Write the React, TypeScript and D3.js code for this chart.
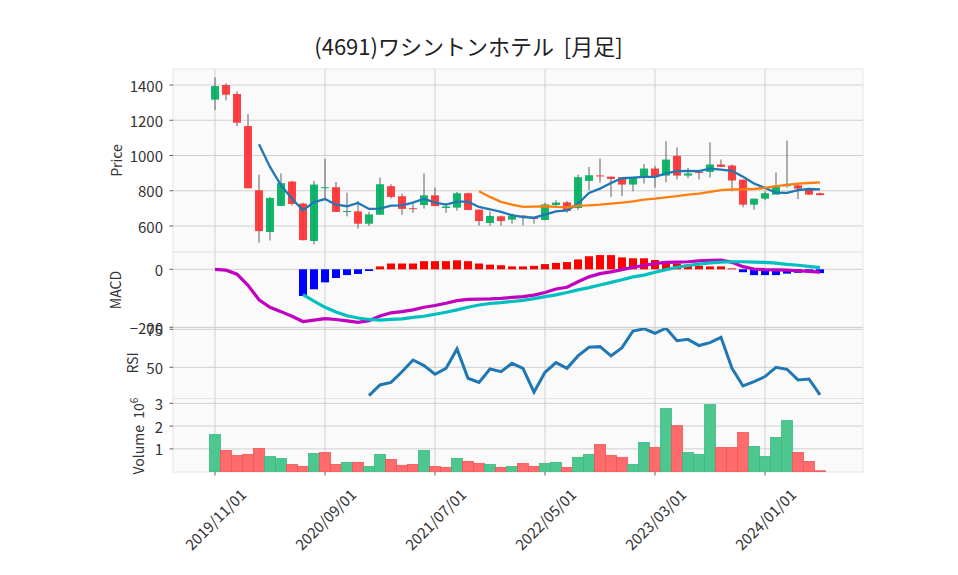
import React, { useRef, useEffect } from "react";
import * as d3 from "d3";

// monthly bars, 2019/11 .. 2024/06
const months = d3.timeMonth.range(new Date(2019, 10, 1), new Date(2024, 6, 1));
const tickEvery = 10;

const opens = [1317, 1400, 1349, 1167, 803, 566, 714, 852, 727, 515, 816, 820, 680, 683, 613, 664, 826, 769, 701, 719, 774, 702, 704, 786, 693, 617, 655, 636, 659, 648, 634, 719, 734, 702, 856, 887, 880, 877, 835, 882, 926, 886, 998, 886, 907, 907, 949, 943, 863, 721, 755, 778, 826, 831, 810, 786];
const highs = [1444, 1409, 1364, 1235, 891, 765, 898, 856, 733, 856, 981, 850, 789, 742, 680, 875, 837, 784, 723, 898, 818, 731, 793, 789, 693, 683, 660, 670, 662, 650, 731, 746, 742, 892, 935, 983, 880, 877, 875, 951, 941, 1081, 1045, 930, 918, 1074, 977, 949, 863, 755, 797, 903, 1085, 841, 816, 790];
const lows = [1258, 1313, 1167, 814, 505, 518, 714, 716, 518, 496, 759, 680, 655, 585, 600, 664, 756, 664, 675, 699, 713, 675, 687, 691, 602, 602, 602, 613, 604, 613, 632, 708, 676, 691, 803, 846, 765, 769, 797, 841, 818, 848, 865, 871, 865, 875, 935, 797, 706, 693, 746, 778, 818, 753, 776, 775];
const closes = [1394, 1345, 1186, 814, 571, 759, 843, 725, 520, 835, 820, 680, 685, 613, 666, 837, 765, 697, 696, 774, 713, 711, 786, 691, 628, 657, 628, 659, 652, 640, 723, 733, 685, 877, 888, 884, 867, 835, 875, 926, 884, 977, 886, 898, 901, 949, 935, 858, 721, 755, 786, 822, 839, 812, 778, 775];

// volume in millions of shares
const volumes = [1.63, 0.93, 0.71, 0.76, 1.02, 0.67, 0.58, 0.32, 0.23, 0.8, 0.84, 0.32, 0.41, 0.41, 0.23, 0.76, 0.54, 0.28, 0.32, 0.93, 0.23, 0.19, 0.58, 0.45, 0.36, 0.32, 0.19, 0.23, 0.36, 0.23, 0.36, 0.41, 0.19, 0.63, 0.76, 1.19, 0.71, 0.63, 0.32, 1.28, 1.06, 2.77, 2.02, 0.84, 0.76, 2.94, 1.06, 1.06, 1.72, 1.11, 0.67, 1.5, 2.24, 0.84, 0.45, 0.04];

// moving averages as drawn (first value at index 4 / 24)
const ma5Start = 4;
const ma5 = [1064, 935, 831, 755, 689, 736, 753, 721, 712, 731, 697, 699, 716, 717, 733, 755, 733, 721, 738, 738, 708, 695, 680, 661, 651, 647, 664, 683, 689, 727, 788, 812, 844, 871, 875, 879, 879, 898, 911, 913, 911, 926, 920, 913, 879, 841, 816, 789, 788, 803, 810, 808];
const ma25Start = 24;
const ma25 = [797, 765, 737, 721, 708, 710, 712, 708, 706, 716, 717, 721, 727, 733, 740, 750, 755, 763, 770, 778, 784, 793, 803, 807, 808, 810, 816, 826, 833, 841, 844, 848];

const macd = [0, -3, -17, -55, -105, -131, -146, -162, -180, -175, -170, -173, -178, -183, -177, -161, -150, -146, -140, -131, -125, -117, -108, -104, -103, -102, -100, -97, -94, -89, -80, -68, -62, -43, -26, -15, -9, -1, 7, 13, 20, 24, 25, 26, 29, 31, 32, 24, 9, 1, -1, -2, -3, -5, -7, -10];
const signalStart = 8;
const signal = [-87, -110, -131, -147, -160, -168, -173, -175, -173, -171, -166, -162, -155, -148, -140, -131, -123, -118, -115, -111, -107, -101, -94, -88, -80, -71, -63, -54, -45, -36, -26, -20, -10, -1, 7, 13, 18, 22, 25, 26, 26, 25, 24, 21, 17, 14, 10, 6];
const hist = [-92, -69, -45, -30, -20, -16, -6, 10, 20, 20, 20, 28, 28, 28, 31, 28, 20, 16, 14, 10, 10, 12, 18, 22, 25, 34, 45, 49, 49, 41, 38, 38, 32, 27, 20, 16, 12, 10, 10, 3, -10, -20, -20, -20, -15, -12, -10, -13];

const rsiStart = 14;
const rsi = [31.4, 38.4, 40.1, 47.1, 54.8, 51.1, 45.4, 49.3, 62.1, 42.8, 40.1, 48.9, 47.1, 52.6, 49.3, 33.6, 46.7, 53.1, 49.3, 57.5, 63.2, 63.6, 57.5, 62.9, 73.9, 75.4, 72.4, 75.7, 67.5, 68.4, 64.3, 66.2, 69.7, 49.3, 37.7, 40.6, 43.9, 50.0, 48.7, 41.7, 42.3, 31.8];

const priceTicks = [600, 800, 1000, 1200, 1400];
const macdTicks = [-200, 0];
const rsiTicks = [50, 75];
const volTicks = [1, 2, 3];

const FONT = "'Noto Sans CJK JP', 'DejaVu Sans', sans-serif";
const TICK_FS = 15;

export default function App() {
  const svgRef = useRef(null);

  useEffect(() => {
    const svg = d3.select(svgRef.current);
    svg.selectAll("*").remove();

    const left = 173;
    const right = 863;
    const panels = {
      price: [69, 252],
      macd: [252, 327.5],
      rsi: [327.5, 398.5],
      vol: [398.5, 472],
    };

    const x = d3.scaleLinear().domain([0, 55]).range([215, 820]);
    const yPrice = d3.scaleLinear().domain([600, 1400]).range([226, 85]);
    const yMacd = d3.scaleLinear().domain([-200, 0]).range([327.3, 269.3]);
    const yRsi = d3.scaleLinear().domain([50, 75]).range([367.3, 329.3]);
    const yVol = d3.scaleLinear().domain([0, 3]).range([471.7, 403.3]);

    const fmtDate = d3.timeFormat("%Y/%m/%d");
    const xTicks = d3.range(0, months.length, tickEvery);

    // panel backgrounds + grids
    const drawPanel = (name, y, ticks, fmt) => {
      const [top, bottom] = panels[name];
      const g = svg.append("g");
      g.append("rect")
        .attr("x", left)
        .attr("y", top)
        .attr("width", right - left)
        .attr("height", bottom - top)
        .attr("fill", "#fafafa")
        .attr("stroke", "#e6e6e6")
        .attr("stroke-width", 1);
      g.selectAll(".vg")
        .data(xTicks)
        .join("line")
        .attr("x1", (d) => x(d))
        .attr("x2", (d) => x(d))
        .attr("y1", top)
        .attr("y2", bottom)
        .attr("stroke", "#d0d0d0")
        .attr("stroke-width", 1);
      g.selectAll(".hg")
        .data(ticks)
        .join("line")
        .attr("x1", left)
        .attr("x2", right)
        .attr("y1", (d) => y(d))
        .attr("y2", (d) => y(d))
        .attr("stroke", "#d0d0d0")
        .attr("stroke-width", 1);
      g.selectAll(".tk")
        .data(ticks)
        .join("line")
        .attr("x1", left - 3.5)
        .attr("x2", left)
        .attr("y1", (d) => y(d))
        .attr("y2", (d) => y(d))
        .attr("stroke", "#333")
        .attr("stroke-width", 0.8);
      g.selectAll(".tl")
        .data(ticks)
        .join("text")
        .attr("x", left - 10)
        .attr("y", (d) => y(d))
        .attr("text-anchor", "end")
        .attr("dominant-baseline", "central")
        .attr("font-size", TICK_FS)
        .attr("fill", "#333")
        .text(fmt);
      const clip = "clip-" + name;
      svg.append("clipPath")
        .attr("id", clip)
        .append("rect")
        .attr("x", left)
        .attr("y", top)
        .attr("width", right - left)
        .attr("height", bottom - top);
      return svg.append("g").attr("clip-path", `url(#${clip})`);
    };

    const minus = (d) => (d < 0 ? "\u2212" + Math.abs(d) : String(d));
    const volUp = (i) => (i === 0 ? closes[0] >= opens[0] : closes[i] > closes[i - 1]);

    // volume
    const gVol = drawPanel("vol", yVol, volTicks, (d) => d);
    gVol.selectAll("rect")
      .data(volumes)
      .join("rect")
      .attr("x", (d, i) => x(i) - 5.5)
      .attr("width", 11)
      .attr("y", (d) => yVol(d))
      .attr("height", (d) => yVol(0) - yVol(d))
      .attr("fill", (d, i) => (volUp(i) ? "#4dc790" : "#fd6b6c"))
      .attr("stroke", (d, i) => (volUp(i) ? "#3fb880" : "#f25556"))
      .attr("stroke-width", 0.8);

    // rsi
    const gRsi = drawPanel("rsi", yRsi, rsiTicks, (d) => d);
    gRsi.append("path")
      .datum(rsi)
      .attr("fill", "none")
      .attr("stroke", "#1f77b4")
      .attr("stroke-width", 3)
      .attr("d", d3.line().x((d, i) => x(i + rsiStart)).y((d) => yRsi(d)));

    // macd
    const gMacd = drawPanel("macd", yMacd, macdTicks, minus);
    gMacd.selectAll("rect")
      .data(hist)
      .join("rect")
      .attr("x", (d, i) => x(i + signalStart) - 4)
      .attr("width", 8)
      .attr("y", (d) => yMacd(Math.max(0, d)))
      .attr("height", (d) => Math.abs(yMacd(d) - yMacd(0)))
      .attr("fill", (d) => (d >= 0 ? "#ff0000" : "#0000ff"));
    gMacd.append("path")
      .datum(macd)
      .attr("fill", "none")
      .attr("stroke", "#bf00bf")
      .attr("stroke-width", 3.2)
      .attr("d", d3.line().x((d, i) => x(i)).y((d) => yMacd(d)));
    gMacd.append("path")
      .datum(signal)
      .attr("fill", "none")
      .attr("stroke", "#00bfbf")
      .attr("stroke-width", 3.2)
      .attr("d", d3.line().x((d, i) => x(i + signalStart)).y((d) => yMacd(d)));

    // price
    const gPrice = drawPanel("price", yPrice, priceTicks, (d) => d);
    const candles = gPrice.selectAll("g.c").data(closes).join("g");
    candles.append("line")
      .attr("x1", (d, i) => x(i))
      .attr("x2", (d, i) => x(i))
      .attr("y1", (d, i) => yPrice(highs[i]))
      .attr("y2", (d, i) => yPrice(lows[i]))
      .attr("stroke", "#606060")
      .attr("stroke-width", 1);
    candles.append("rect")
      .attr("x", (d, i) => x(i) - 4)
      .attr("width", 8)
      .attr("y", (d, i) => yPrice(Math.max(opens[i], d)))
      .attr("height", (d, i) => Math.max(1, Math.abs(yPrice(opens[i]) - yPrice(d))))
      .attr("fill", (d, i) => (d >= opens[i] ? "#00b060" : "#fe3032"))
      .attr("fill-opacity", 0.92);
    gPrice.append("path")
      .datum(ma5)
      .attr("fill", "none")
      .attr("stroke", "#1f77b4")
      .attr("stroke-width", 2.3)
      .attr("d", d3.line().x((d, i) => x(i + ma5Start)).y((d) => yPrice(d)));
    gPrice.append("path")
      .datum(ma25)
      .attr("fill", "none")
      .attr("stroke", "#ff7f0e")
      .attr("stroke-width", 2.3)
      .attr("d", d3.line().x((d, i) => x(i + ma25Start)).y((d) => yPrice(d)));

    // x axis under the volume panel
    svg.selectAll(".xt")
      .data(xTicks)
      .join("line")
      .attr("x1", (d) => x(d))
      .attr("x2", (d) => x(d))
      .attr("y1", 472)
      .attr("y2", 475.5)
      .attr("stroke", "#333")
      .attr("stroke-width", 0.8);
    svg.selectAll(".xl")
      .data(xTicks)
      .join("text")
      .attr("transform", (d) => `translate(${x(d)},519) rotate(-45)`)
      .attr("text-anchor", "middle")
      .attr("dominant-baseline", "central")
      .attr("font-size", TICK_FS)
      .attr("fill", "#333")
      .text((d) => fmtDate(months[d]));

    // y labels
    const ylab = (cx, cy, txt) =>
      svg.append("text")
        .attr("transform", `translate(${cx},${cy}) rotate(-90)`)
        .attr("text-anchor", "middle")
        .attr("dominant-baseline", "central")
        .attr("font-size", 14)
        .attr("fill", "#333")
        .text(txt);
    ylab(115.5, 160.5, "Price");
    ylab(114.5, 290, "MACD");
    ylab(132, 363, "RSI");
    const vl = ylab(138, 436, "Volume\u00a0\u00a010");
    vl.append("tspan").attr("font-size", 10).attr("dy", "-0.5em").text("6");

    // title
    svg.append("text")
      .attr("x", 468.5)
      .attr("y", 45)
      .attr("text-anchor", "middle")
      .attr("dominant-baseline", "central")
      .attr("font-size", 22)
      .attr("fill", "#222")
      .text("(4691)ワシントンホテル\u00a0\u00a0[月足]");
  }, []);

  return (
    <svg
      ref={svgRef}
      width={958}
      height={575}
      style={{ position: "absolute", left: 0, top: 0, background: "#fff", fontFamily: FONT }}
    />
  );
}
